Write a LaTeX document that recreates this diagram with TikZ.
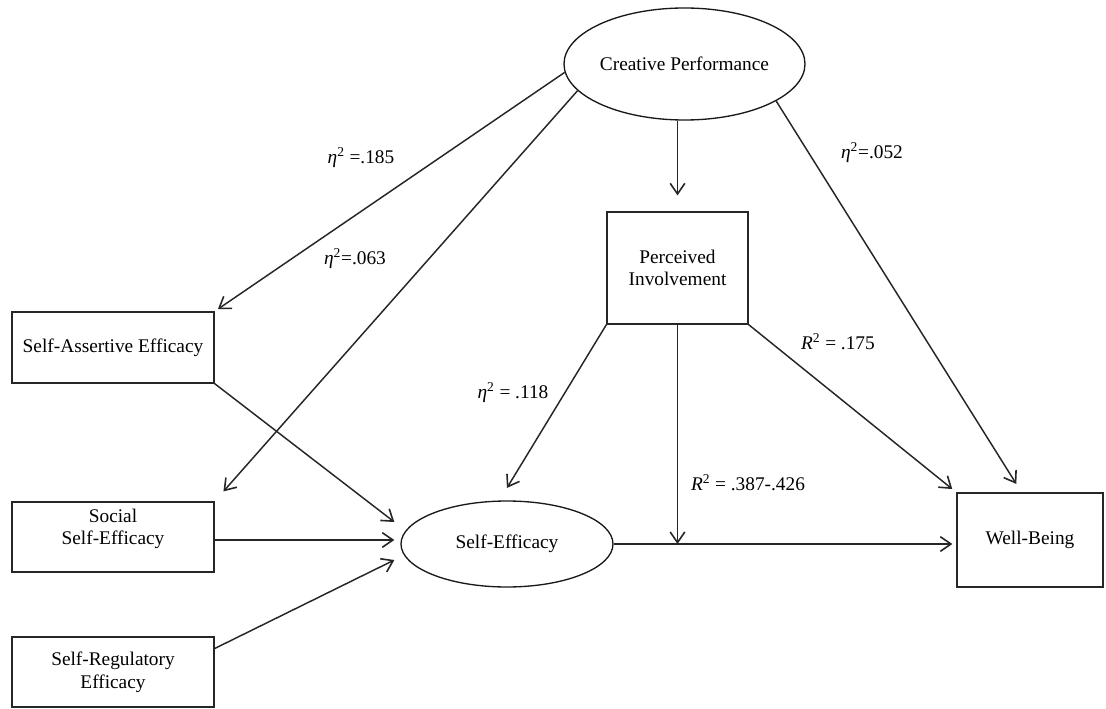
\documentclass[tikz,border=0pt]{standalone}
\usepackage{fontspec}
\setmainfont{Liberation Serif}
\usetikzlibrary{arrows.meta,shapes.geometric,shadows,calc}
\newcommand{\myeta}{\textit{η}\textsuperscript{2}}
\newcommand{\myR}{\textit{R}\textsuperscript{2}}
\begin{document}
\begin{tikzpicture}[x=0.75pt,y=-0.75pt,
  every node/.style={font=\fontsize{14.5}{17}\selectfont},
  box/.style={draw=black!85, line width=0.9pt, fill=white, rectangle, inner sep=0pt, align=center,
    drop shadow={shadow xshift=1pt, shadow yshift=-1pt, fill=black!40, opacity=0.5}},
  oval/.style={draw=black!90, line width=1pt, fill=white, ellipse, inner sep=0pt, align=center},
  arr/.style={draw=black!85, line width=1.1pt, -{Straight Barb[length=8pt,width=11pt,line width=1.2pt]}},
  lbl/.style={inner sep=0pt}]
\useasboundingbox (0,0) rectangle (1106,709);

% nodes
\node[oval, minimum width=180.75pt, minimum height=84pt] (CP) at (684.5,64) {Creative Performance};
\node[box, minimum width=105.75pt, minimum height=84pt] (PI) at (677.5,268) {Perceived\\Involvement};
\node[box, minimum width=151.5pt, minimum height=53.25pt] (SA) at (113,347.5) {Self-Assertive Efficacy};
\node[box, minimum width=151.5pt, minimum height=52.5pt,
  label={[align=center,yshift=6pt]center:Social\\Self-Efficacy}] (SS) at (113,537) {};
\node[box, minimum width=151.5pt, minimum height=52.5pt] (SR) at (113,672) {Self-Regulatory\\Efficacy};
\node[oval, minimum width=159pt, minimum height=64.5pt] (SE) at (507,544) {Self-Efficacy};
\node[box, minimum width=109.5pt, minimum height=70.5pt] (WB) at (1030,540) {Well-Being};

% free ends
\coordinate (inA) at ($(SE.west)+(-6,-22)$);
\coordinate (inB) at ($(SE.west)+(-6,-4)$);
\coordinate (inC) at ($(SE.west)+(-6,16)$);
\coordinate (mod) at (PI.south |- SE.east);

% connectors
\draw[arr, shorten >=3pt] (CP.184) -- (SA.north east);
\draw[arr, shorten >=10pt] (CP.194) -- (SS.north east);
\draw[arr, shorten >=12pt] (CP.south -| PI.north) -- (PI.north);
\draw[arr, shorten >=7.5pt] (CP.338) -- (WB.100);
\draw[arr, shorten >=11pt] (PI.south west) -- (SE.100);
\draw[arr, shorten >=4pt] (PI.south east) -- (WB.north west);
\draw[arr] (PI.south) -- (mod);
\draw[arr, shorten >=3pt] (SE.east) -- (SE.east -| WB.west);
\draw[arr] (SA.south east) -- (inA);
\draw[arr] (SS.east |- inB) -- (inB);
\draw[arr] (SR.13) -- (inC);

% labels
\node[lbl] (l1) at (361,158) {\myeta{} =.185};
\node[lbl] (l2) at (355,259) {\myeta=.063};
\node[lbl] (l3) at (872,153) {\myeta=.052};
\node[lbl] (l4) at (513,393) {\myeta{} = .118};
\node[lbl] (l5) at (748,483) {\myR{} = .387-.426};
\node[lbl] (l6) at (838,342) {\myR{} = .175};
\end{tikzpicture}
\end{document}
